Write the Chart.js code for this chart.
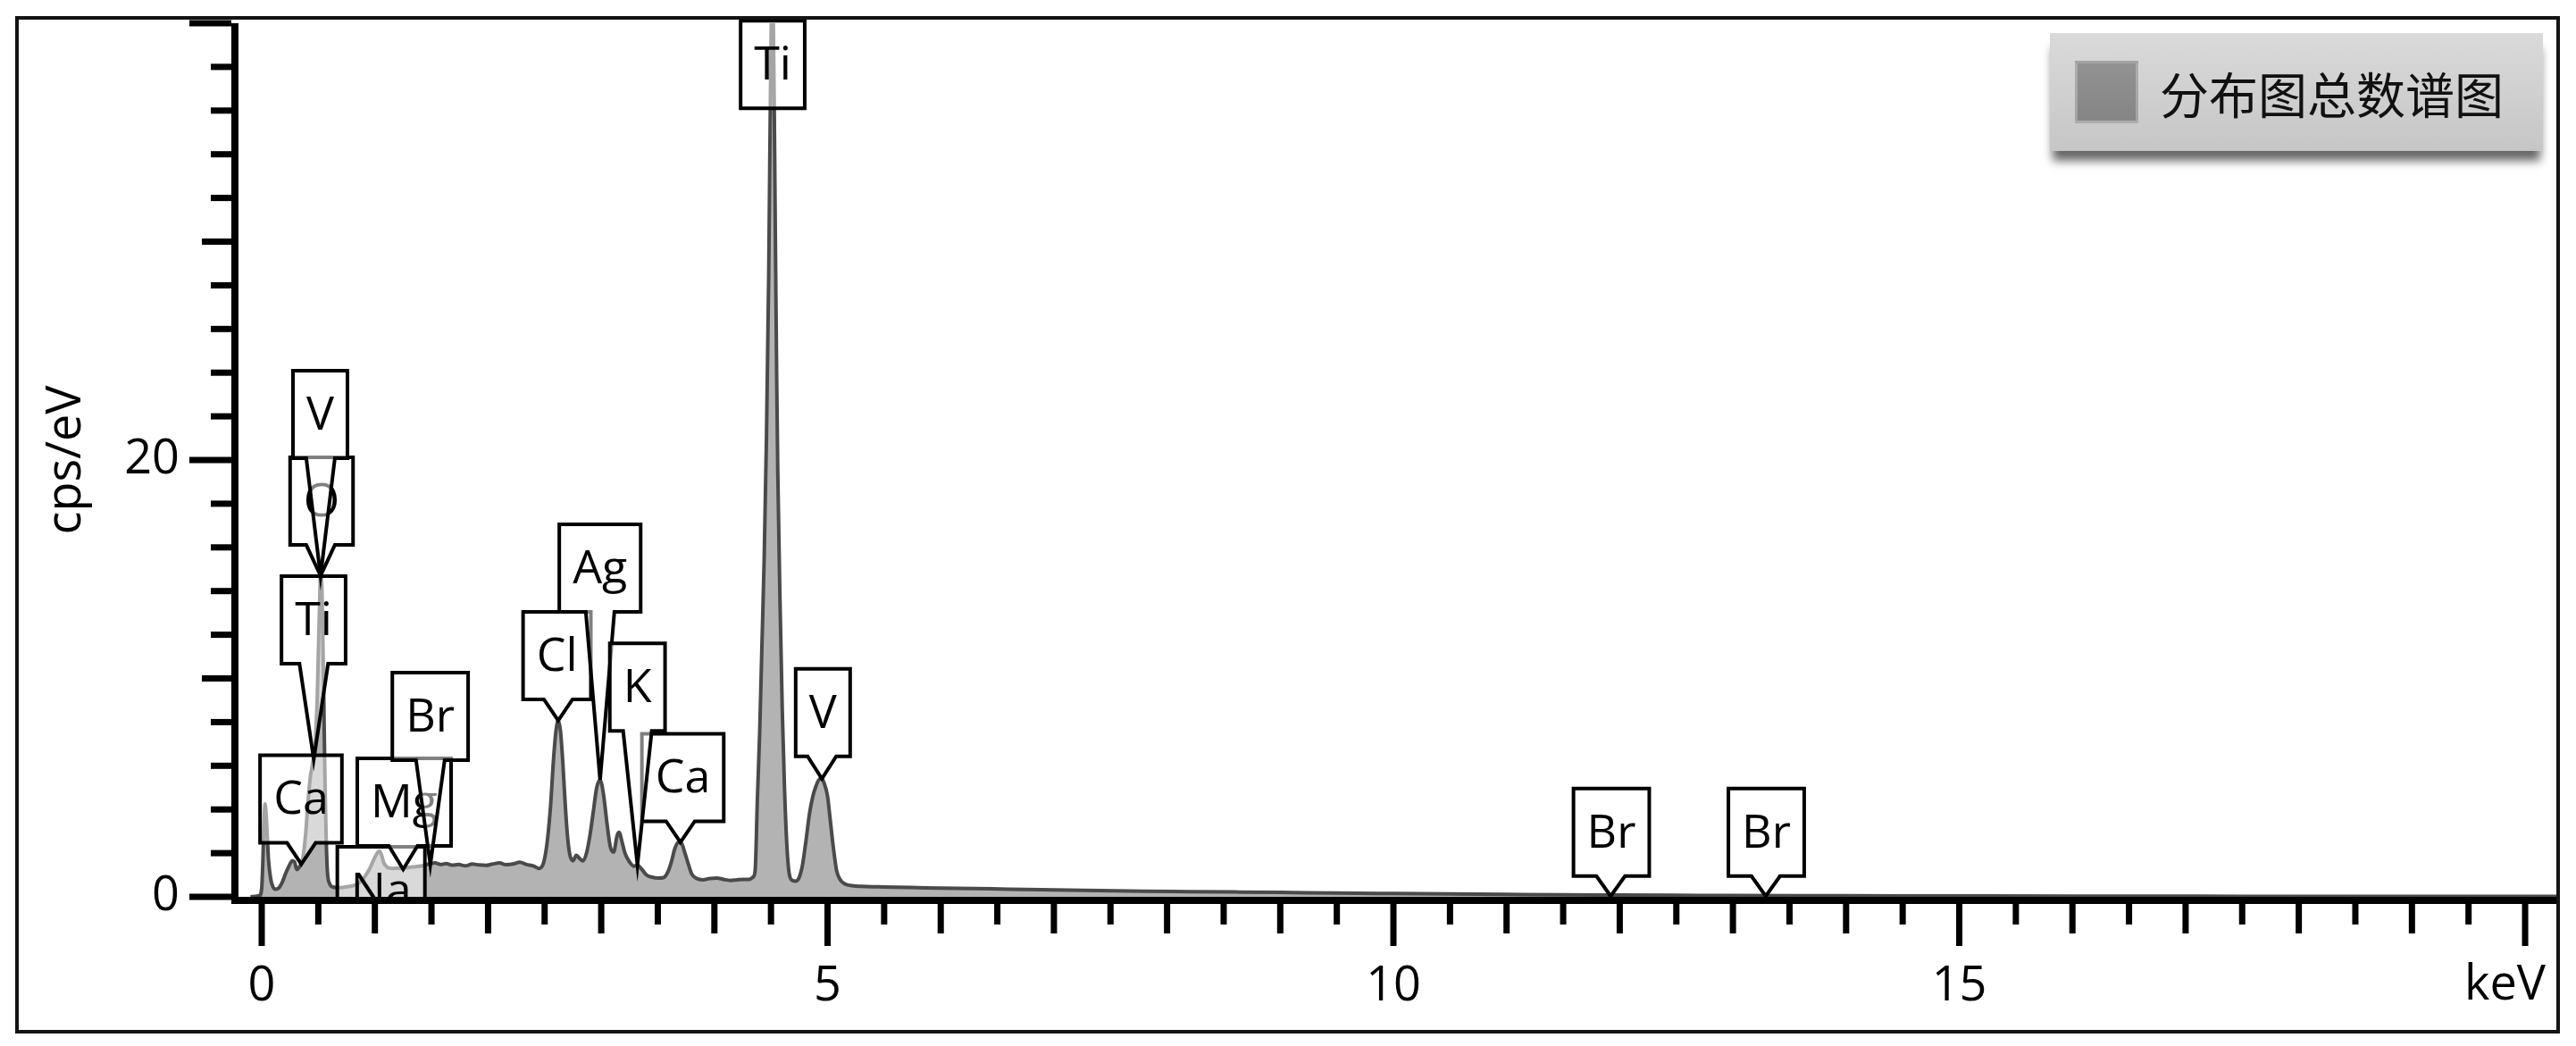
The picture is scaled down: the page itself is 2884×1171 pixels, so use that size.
<!DOCTYPE html>
<html>
<head>
<meta charset="utf-8">
<title>EDS spectrum</title>
<script src="https://cdn.jsdelivr.net/npm/chart.js@4.4.0/dist/chart.umd.min.js"></script>
<style>
  html, body { margin: 0; padding: 0; background: #fff; }
  #wrap { position: relative; width: 2884px; height: 1171px; }
  #frame {
    position: absolute; left: 17px; top: 18px; width: 2849px; height: 1139px;
    border: 4px solid #141414; box-sizing: border-box; pointer-events: none;
  }
  #legend {
    position: absolute; left: 2295px; top: 37px; width: 552px; height: 132px;
    background: linear-gradient(#dadada, #c6c6c6);
    box-shadow: 0 14px 10px -3px rgba(0, 0, 0, 0.6);
    display: flex; align-items: center; box-sizing: border-box; padding-left: 28px;
    font-family: 'Noto Sans CJK SC', 'Open Sans', sans-serif; font-size: 55px; color: #111;
  }
  #legend .swatch {
    width: 71px; height: 70px; margin-right: 24px; box-sizing: border-box;
    background: linear-gradient(#929292, #858585);
    border: 3px solid rgba(255, 255, 255, 0.25);
  }
</style>
</head>
<body>
<div id="wrap">
  <canvas id="spectrumChart"></canvas>
  <div id="legend"></div>
  <div id="frame"></div>
</div>
<script>
// EDS spectrum · cps/eV against keV · callout labels for the element lines

const FONT = "'Open Sans', 'Noto Sans CJK SC', sans-serif";
Chart.defaults.font.family = FONT;
Chart.defaults.color = '#000';

const seriesName = '分布图总数谱图';
const yAxisTitle = 'cps/eV';
const xAxisUnit = 'keV';
const xTickLabels = [0, 5, 10, 15];
const yTickLabels = [0, 20];

// spectrum (keV, cps/eV)
const spectrumEnergy = [
  -0.10, -0.02, 0.00, 0.01, 0.02, 0.03, 0.04, 0.05, 0.06, 0.08,
  0.10, 0.12, 0.15, 0.18, 0.21, 0.24, 0.27, 0.29, 0.31, 0.33,
  0.35, 0.37, 0.39, 0.41, 0.43, 0.45, 0.47, 0.49, 0.51, 0.52,
  0.53, 0.54, 0.55, 0.56, 0.57, 0.58, 0.60, 0.63, 0.68, 0.74,
  0.80, 0.85, 0.90, 0.95, 0.99, 1.02, 1.04, 1.06, 1.08, 1.11,
  1.15, 1.20, 1.25, 1.30, 1.36, 1.42, 1.48, 1.53, 1.58, 1.63,
  1.68, 1.74, 1.80, 1.86, 1.92, 1.98, 2.04, 2.10, 2.16, 2.22,
  2.28, 2.34, 2.40, 2.45, 2.49, 2.52, 2.55, 2.58, 2.60, 2.62,
  2.64, 2.66, 2.68, 2.70, 2.72, 2.75, 2.78, 2.81, 2.84, 2.87,
  2.90, 2.93, 2.96, 2.99, 3.02, 3.05, 3.08, 3.11, 3.14, 3.16,
  3.18, 3.21, 3.25, 3.29, 3.32, 3.36, 3.40, 3.45, 3.50, 3.55,
  3.59, 3.62, 3.65, 3.68, 3.71, 3.74, 3.77, 3.80, 3.84, 3.90,
  3.96, 4.02, 4.08, 4.14, 4.20, 4.26, 4.31, 4.34, 4.36, 4.38,
  4.40, 4.42, 4.44, 4.46, 4.48, 4.49, 4.50, 4.51, 4.52, 4.53,
  4.54, 4.55, 4.56, 4.58, 4.60, 4.62, 4.64, 4.66, 4.69, 4.72,
  4.75, 4.78, 4.81, 4.84, 4.87, 4.90, 4.93, 4.95, 4.97, 5.00,
  5.02, 5.05, 5.08, 5.11, 5.15, 5.20, 5.30, 5.45, 5.60, 5.80,
  6.00, 6.30, 6.60, 7.00, 7.40, 7.80, 8.20, 8.60, 9.00, 9.50,
  10.0, 10.5, 11.0, 11.5, 12.0, 12.5, 13.0, 14.0, 15.0, 16.0,
  17.0, 18.0, 19.0, 20.0, 20.3
];
const spectrumCounts = [
  0.00, 0.05, 0.40, 1.60, 3.40, 4.25, 3.70, 2.70, 1.70, 0.80,
  0.45, 0.35, 0.40, 0.65, 1.05, 1.40, 1.65, 1.60, 1.25, 1.35,
  1.55, 2.00, 3.00, 4.40, 5.50, 6.10, 6.90, 9.00, 13.2, 14.7,
  14.4, 12.0, 8.50, 5.00, 2.60, 1.20, 0.60, 0.45, 0.42, 0.45,
  0.50, 0.60, 0.85, 1.25, 1.70, 2.00, 2.10, 1.90, 1.55, 1.35,
  1.30, 1.32, 1.30, 1.35, 1.38, 1.42, 1.50, 1.55, 1.48, 1.52,
  1.45, 1.48, 1.42, 1.50, 1.46, 1.44, 1.50, 1.55, 1.47, 1.50,
  1.58, 1.48, 1.42, 1.30, 1.55, 2.40, 4.00, 6.40, 7.60, 8.07,
  7.60, 6.20, 4.40, 2.90, 2.00, 1.65, 1.90, 1.75, 1.65, 2.00,
  2.80, 3.90, 5.00, 5.35, 4.70, 3.40, 2.30, 2.05, 2.80, 2.95,
  2.60, 2.00, 1.60, 1.40, 1.45, 1.25, 1.00, 0.90, 0.86, 0.88,
  1.15, 1.60, 2.20, 2.50, 2.45, 2.00, 1.50, 1.05, 0.85, 0.78,
  0.84, 0.86, 0.80, 0.75, 0.78, 0.80, 0.80, 0.90, 1.20, 4.50,
  7.50, 11.5, 15.5, 21.0, 28.5, 34.0, 39.0, 42.0, 40.5, 35.5,
  29.5, 24.0, 19.5, 13.5, 8.50, 4.90, 2.40, 1.10, 0.75, 0.72,
  0.90, 1.50, 2.60, 3.80, 4.60, 5.10, 5.40, 5.41, 5.20, 4.60,
  3.70, 2.30, 1.20, 0.80, 0.60, 0.52, 0.48, 0.46, 0.44, 0.42,
  0.40, 0.38, 0.35, 0.32, 0.29, 0.26, 0.24, 0.22, 0.20, 0.17,
  0.15, 0.13, 0.11, 0.09, 0.08, 0.07, 0.06, 0.05, 0.04, 0.03,
  0.03, 0.02, 0.02, 0.02, 0.02
];

// element callouts: name, line energy (keV) and the peak height they point at
const peakLabels = ['Na', 'Mg', 'Br', 'Ca', 'Ti', 'O', 'V', 'Cl', 'Ag', 'Ca', 'K', 'V', 'Ti', 'Br', 'Br'];
const peakEnergy = [1.04, 1.25, 1.49, 0.35, 0.46, 0.52, 0.52, 2.62, 2.99, 3.70, 3.32, 4.95, 4.51, 11.92, 13.29];
const peakHeight = [2.10, 1.26, 1.47, 1.50, 6.30, 14.7, 14.7, 8.07, 5.35, 2.50, 1.46, 5.41, 42.0, 0.03, 0.03];

// where each label box sits (box centre in keV, box bottom in cps/eV)
const calloutLayout = [
  { cx: 1.055, bottom: -1.72, pointer: false },
  { cx: 1.259, bottom: 2.33, pointer: true },
  { cx: 1.489, bottom: 6.26, pointer: true },
  { cx: 0.347, bottom: 2.47, pointer: true },
  { cx: 0.458, bottom: 10.67, pointer: true },
  { cx: 0.529, bottom: 16.11, pointer: true },
  { cx: 0.517, bottom: 20.08, pointer: true },
  { cx: 2.609, bottom: 9.04, pointer: true },
  { cx: 2.989, bottom: 13.05, pointer: true },
  { cx: 3.721, bottom: 3.46, pointer: true },
  { cx: 3.320, bottom: 7.60, pointer: true },
  { cx: 4.959, bottom: 6.43, pointer: true },
  { cx: 4.515, bottom: 36.1, pointer: false },
  { cx: 11.926, bottom: 0.95, pointer: true },
  { cx: 13.295, bottom: 0.95, pointer: true }
];

const calloutPlugin = {
  id: 'callouts',
  afterDatasetsDraw(chart) {
    const { ctx, chartArea: a, scales: { x, y } } = chart;
    const boxH = 98;
    const halfBase = 16;
    ctx.save();
    ctx.beginPath();
    ctx.rect(a.left, a.top - 6, a.right - a.left, a.bottom - a.top + 6);
    ctx.clip();
    ctx.font = '52px ' + FONT;
    ctx.lineWidth = 4;
    ctx.lineJoin = 'miter';
    peakLabels.forEach((name, i) => {
      const lay = calloutLayout[i];
      const cx = x.getPixelForValue(lay.cx);
      const bottom = y.getPixelForValue(lay.bottom);
      const w = ctx.measureText(name).width + 30;
      const l = cx - w / 2, r = cx + w / 2, t = bottom - boxH;

      ctx.beginPath();
      ctx.moveTo(l, t);
      ctx.lineTo(r, t);
      ctx.lineTo(r, bottom);
      if (lay.pointer) {
        const tx = x.getPixelForValue(peakEnergy[i]);
        const ty = y.getPixelForValue(peakHeight[i]);
        ctx.lineTo(tx + halfBase, bottom);
        ctx.lineTo(tx, ty);
        ctx.lineTo(tx - halfBase, bottom);
      }
      ctx.lineTo(l, bottom);
      ctx.closePath();
      ctx.fillStyle = 'rgba(255, 255, 255, 0.5)';
      ctx.fill();
      ctx.strokeStyle = '#000';
      ctx.stroke();

      ctx.fillStyle = '#000';
      ctx.textAlign = 'center';
      ctx.textBaseline = 'middle';
      ctx.fillText(name, cx, t + boxH / 2 + 2);
    });
    ctx.restore();
  }
};

// thick axis lines with three tick lengths, plus the keV unit
const axisPlugin = {
  id: 'edsAxes',
  afterDraw(chart) {
    const { ctx, chartArea: a, scales: { x, y } } = chart;
    const lw = 8, tw = 7;
    ctx.save();
    ctx.fillStyle = '#000';
    ctx.fillRect(a.left - lw / 2, a.top, lw, a.bottom - a.top + lw);
    ctx.fillRect(a.left - lw / 2, a.bottom, a.right - a.left + lw / 2, lw);

    for (let v = 0; v <= 20; v += 0.5) {
      const px = x.getPixelForValue(v);
      const len = v % 5 === 0 ? 47 : (v % 1 === 0 ? 33 : 23);
      ctx.fillRect(px - tw / 2, a.bottom + lw, tw, len);
    }
    for (let v = 0; v <= 40; v += 2) {
      const py = y.getPixelForValue(v);
      const len = v % 20 === 0 ? 47 : (v % 10 === 0 ? 33 : 23);
      ctx.fillRect(a.left - lw / 2 - len, py - tw / 2, len, tw);
    }

    ctx.font = '54px ' + FONT;
    ctx.textAlign = 'right';
    ctx.textBaseline = 'middle';
    ctx.fillText(xAxisUnit, 2850, a.bottom + 100);
    ctx.restore();
  }
};

const ctx = document.getElementById('spectrumChart').getContext('2d');

const spectrumChart = new Chart(ctx, {
  type: 'line',
  data: {
    datasets: [{
      label: seriesName,
      data: spectrumEnergy.map((e, i) => ({ x: e, y: spectrumCounts[i] })),
      borderColor: '#4a4a4a',
      borderWidth: 4,
      backgroundColor: '#b3b3b3',
      fill: 'origin',
      pointRadius: 0,
      cubicInterpolationMode: 'monotone'
    }]
  },
  options: {
    responsive: true,
    maintainAspectRatio: false,
    animation: false,
    layout: { padding: { left: 0, top: 26, right: 22, bottom: 0 } },
    plugins: {
      legend: { display: false },
      tooltip: { enabled: false }
    },
    scales: {
      x: {
        type: 'linear',
        min: -0.2368,
        max: 20.276,
        grid: { display: false, drawTicks: false },
        border: { display: false },
        ticks: {
          stepSize: 5,
          includeBounds: false,
          autoSkip: false,
          maxRotation: 0,
          padding: 68,
          font: { size: 54 },
          color: '#000',
          callback: v => xTickLabels.includes(v) ? String(v) : ''
        },
        afterFit: scale => {
          scale.height = 167;
          scale.paddingLeft = 0;
          scale.paddingRight = 0;
        }
      },
      y: {
        min: 0,
        max: 40,
        grid: { display: false, drawTicks: false },
        border: { display: false },
        ticks: {
          stepSize: 20,
          padding: 62,
          font: { size: 54 },
          color: '#000',
          callback: v => yTickLabels.includes(v) ? String(v) : ''
        },
        title: {
          display: true,
          text: yAxisTitle,
          font: { size: 54 },
          color: '#000',
          padding: { top: 42, bottom: 0 }
        },
        afterFit: scale => {
          scale.width = 263;
          scale.paddingTop = 0;
          scale.paddingBottom = 0;
        }
      }
    }
  },
  plugins: [calloutPlugin, axisPlugin]
});

// legend box drawn as HTML, from the dataset label
const legendEl = document.getElementById('legend');
legendEl.innerHTML = '<div class="swatch"></div><span>' + spectrumChart.data.datasets[0].label + '</span>';
</script>
</body>
</html>
